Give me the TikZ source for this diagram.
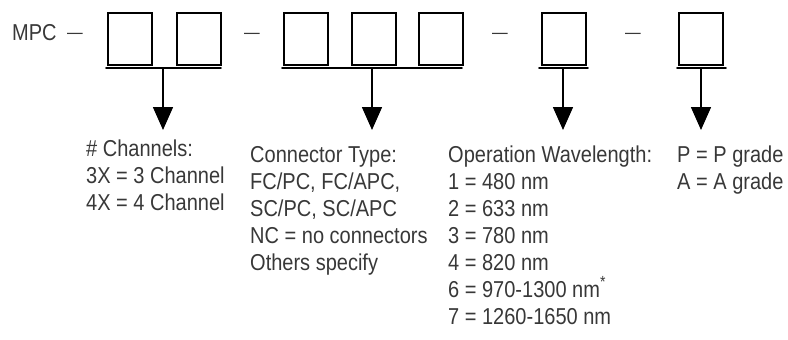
\documentclass[tikz,border=0pt]{standalone}
\usepackage{fontspec}
\setmainfont{Liberation Sans}[FakeStretch=0.87]
\usepackage{tkz-euclide}
\usetikzlibrary{arrows.meta}

\begin{document}
\begin{tikzpicture}[x=1pt,y=-1pt,
    case/.style={draw,line width=2pt,minimum width=44pt,minimum height=52pt,inner sep=0pt},
    txt/.style={inner sep=0pt,text=black!78,font=\fontsize{23}{27}\selectfont},
    col/.style={txt,align=left,anchor=base west},
    fleche/.style={line width=1.6pt,-{Triangle[width=20pt,length=23pt]}}]
  \useasboundingbox (0,0) rectangle (788,340);
  % la référence
  \node[txt,anchor=base west] (mpc) at (12,41) {MPC};
  \foreach \n/\x in {1/75,2/252,3/500,4/633}
    \node[txt,anchor=base,font=\fontsize{18}{20}\selectfont] (tiret\n) at (\x,38) {—};
  % les cases
  \foreach \n/\x in {1/130,2/198.5,3/306,4/373.5,5/440.5,6/564,7/701}
    \node[case] (c\n) at (\x,39) {};
  % définition des points
  \tkzDefPoints{106/68/A,221/68/B,282/68/C,462/68/D,539/68/E,588/68/F,677/68/G,726/68/H}
  \tkzDefPoints{163/68/P1,372/68/P2,563/68/P3,701/68/P4}
  \tkzDefPoints{163/130/Q1,372/130/Q2,563/130/Q3,701/130/Q4}
  % tracer
  \tkzDrawSegments[line width=1.8pt](A,B C,D E,F G,H)
  \foreach \i in {1,...,4}
    \draw[fleche] (P\i) -- (Q\i);
  % les légendes (ancre sur la dernière ligne)
  \node[col] (canaux) at (86,210) {\# Channels:\\3X = 3 Channel\\4X = 4 Channel};
  \node[col] (connecteur) at (250,270) {Connector Type:\\FC/PC, FC/APC,\\SC/PC, SC/APC\\NC = no connectors\\Others specify};
  \node[col] (onde) at (448,324) {Operation Wavelength:\\1 = 480 nm\\2 = 633 nm\\3 = 780 nm\\4 = 820 nm\\6 = 970-1300 nm\textsuperscript{*}\\7 = 1260-1650 nm};
  \node[col] (grade) at (677,189) {P = P grade\\A = A grade};
\end{tikzpicture}
\end{document}
